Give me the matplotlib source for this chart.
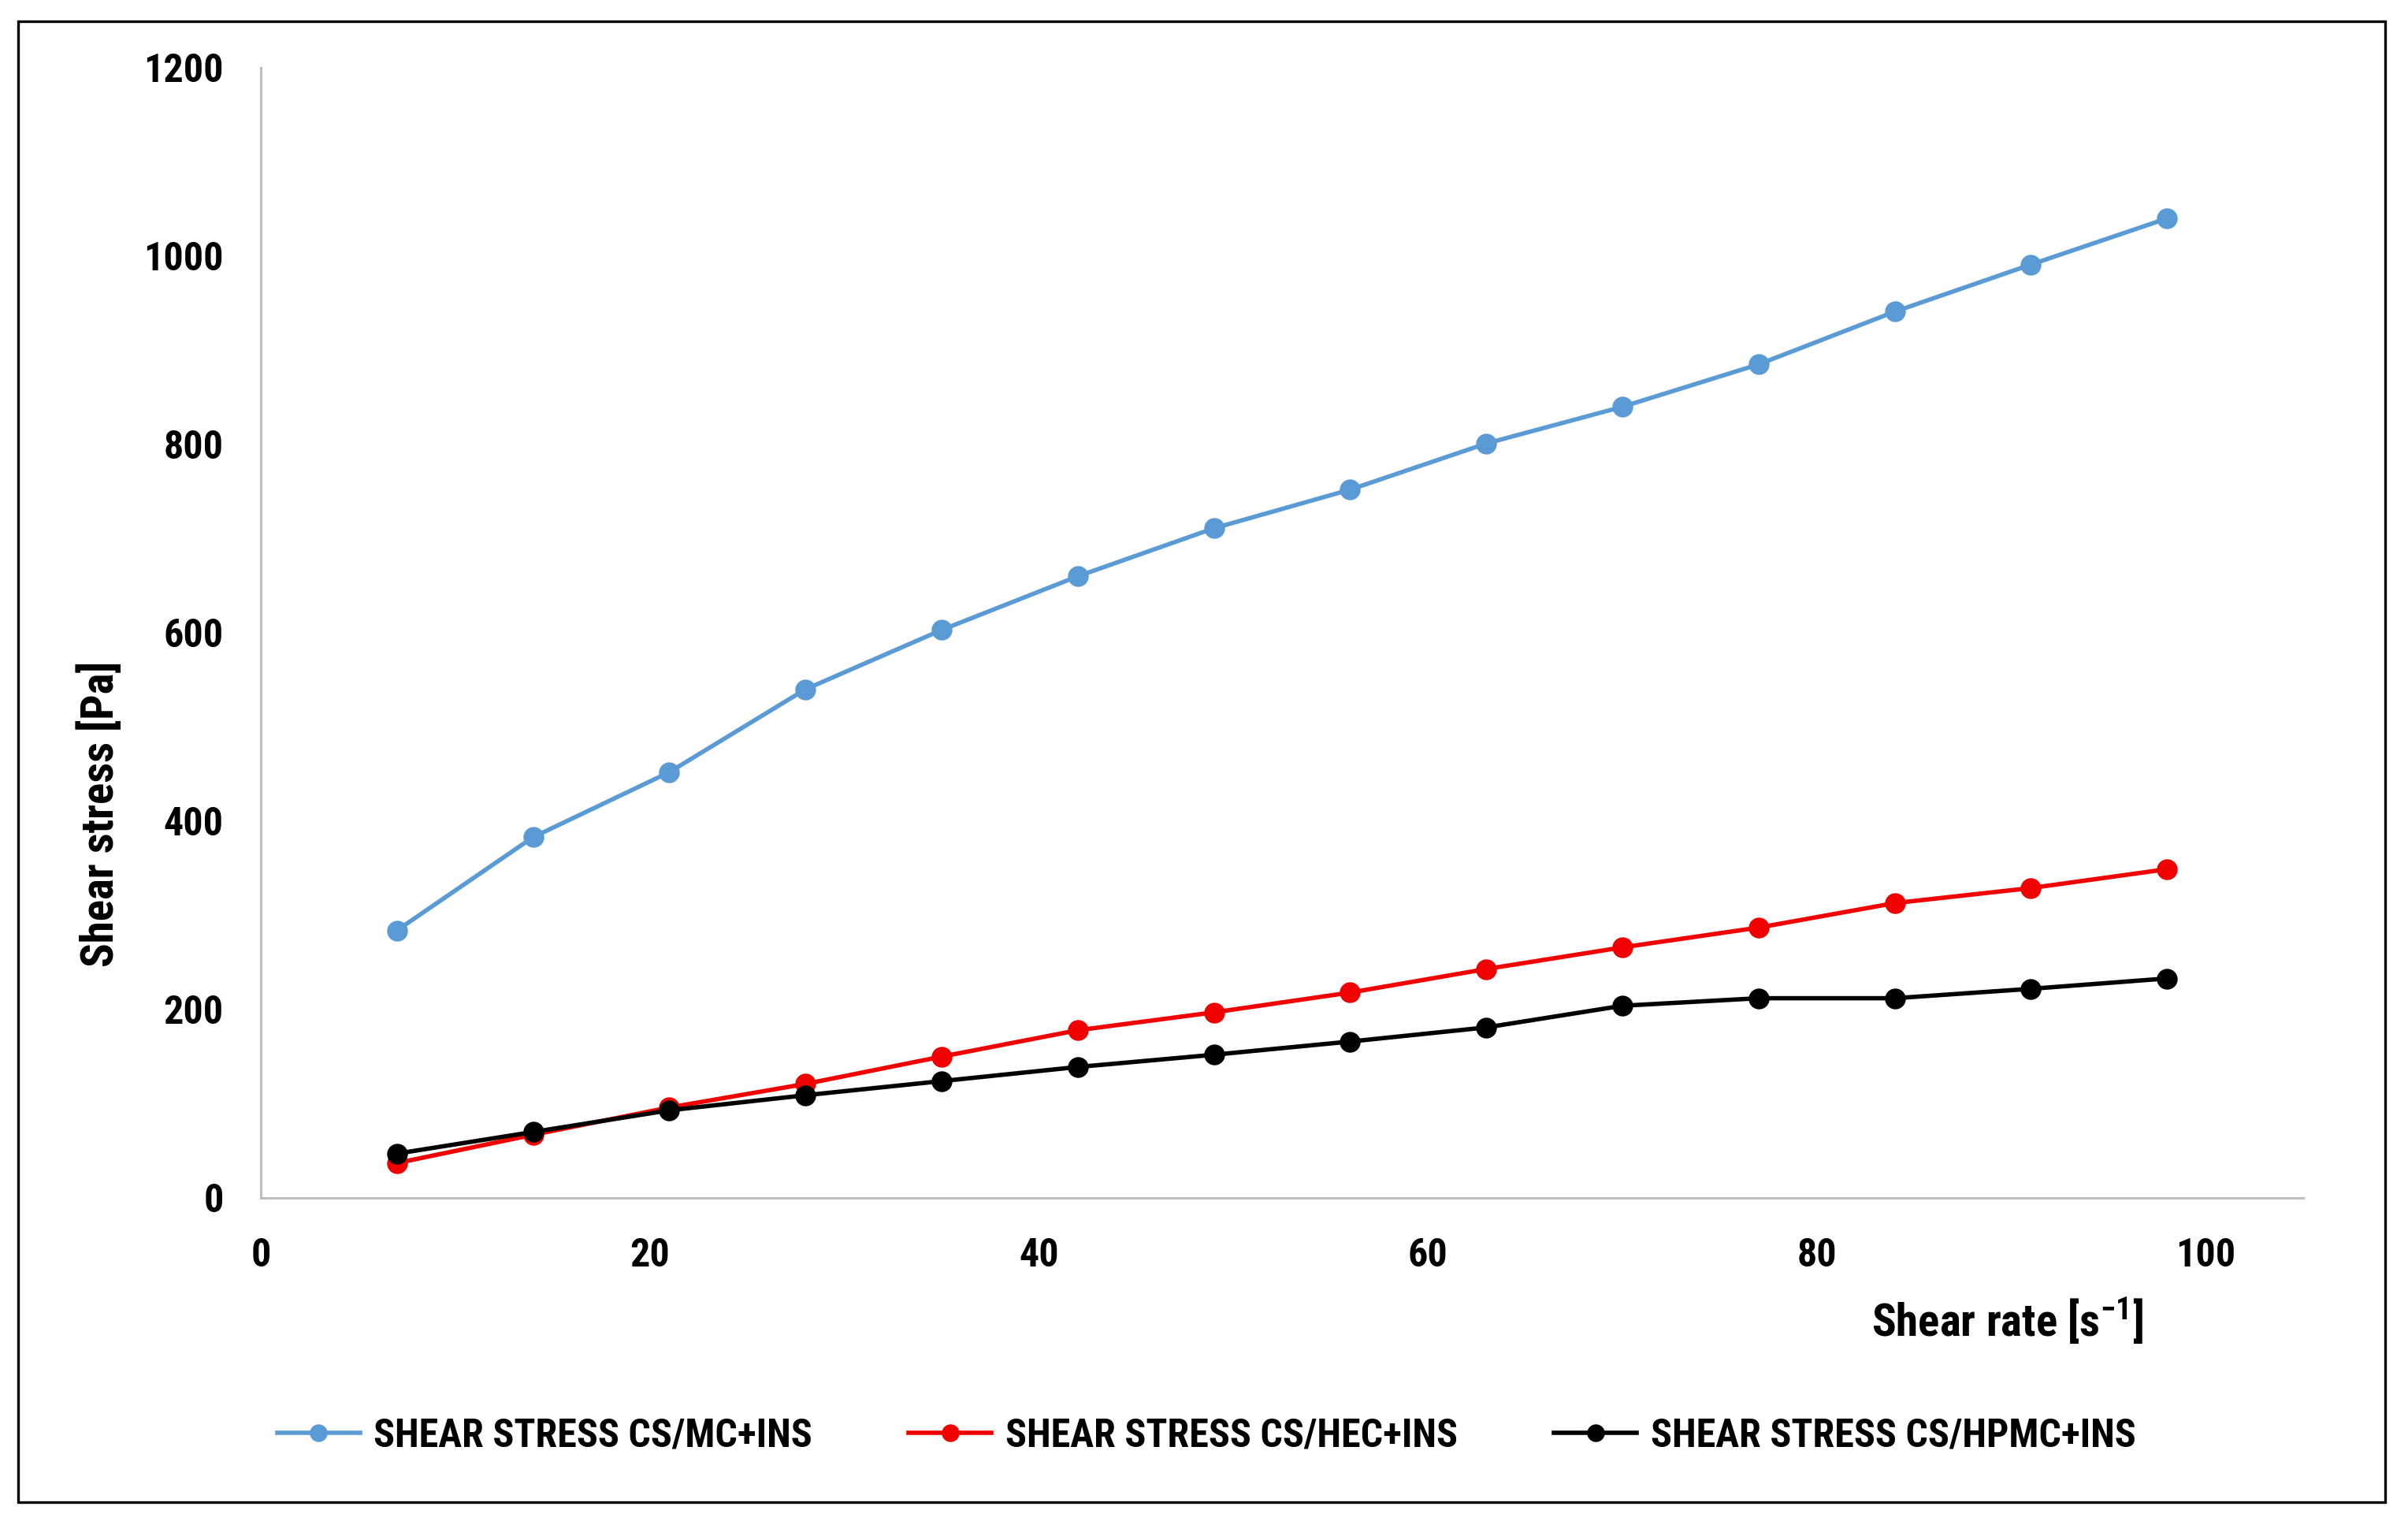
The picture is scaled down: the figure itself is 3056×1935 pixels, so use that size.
import matplotlib
matplotlib.use("Agg")
import matplotlib.pyplot as plt
from matplotlib import font_manager as fm
from matplotlib.patches import Rectangle

# ---- data ----
shear_rate = [7, 14, 21, 28, 35, 42, 49, 56, 63, 70, 77, 84, 91, 98]
stress_mc = [284, 383, 452, 540, 603, 660, 711, 752, 801, 840, 885, 941, 991, 1040]
stress_hec = [37, 67, 96, 121, 150, 178, 197, 218, 243, 266, 287, 313, 329, 349]
stress_hpmc = [47, 70, 93, 109, 124, 139, 152, 166, 181, 204, 212, 212, 222, 233]
labels = ["SHEAR STRESS CS/MC+INS", "SHEAR STRESS CS/HEC+INS", "SHEAR STRESS CS/HPMC+INS"]
colors = ["#5B9BD5", "#F00000", "#000000"]
x_ticks = [0, 20, 40, 60, 80, 100]
y_ticks = [0, 200, 400, 600, 800, 1000, 1200]

avail = {f.name for f in fm.fontManager.ttflist}
fam = "DejaVu Sans"
for cand in ["Liberation Sans Narrow", "Roboto Condensed", "Open Sans Condensed", "Liberation Sans", "Open Sans"]:
    if cand in avail:
        fam = cand
        break
plt.rcParams['font.family'] = [fam, 'DejaVu Sans']
plt.rcParams['mathtext.default'] = 'regular'

fig = plt.figure(figsize=(30.56, 19.35), dpi=100)
ax = fig.add_axes([0.1083, 0.2145, 0.9565 - 0.1083, 0.9556 - 0.2145])

for ys, c, lab in zip([stress_mc, stress_hec, stress_hpmc], colors, labels):
    ax.plot(shear_rate, ys, color=c, lw=4.0, marker='o', markersize=19,
            markeredgewidth=0, label=lab)

ax.set_xlim(0, 105)
ax.set_ylim(0, 1200)
ax.set_xticks(x_ticks)
ax.set_yticks(y_ticks)
for s in ['top', 'right']:
    ax.spines[s].set_visible(False)
for s in ['left', 'bottom']:
    ax.spines[s].set_color('#BFBFBF')
    ax.spines[s].set_linewidth(2.2)
ax.tick_params(axis='both', length=0, labelsize=36)
ax.tick_params(axis='y', pad=34)
ax.tick_params(axis='x', pad=36)
for t in ax.get_xticklabels() + ax.get_yticklabels():
    t.set_fontweight('bold')

fig.text(0.0415, 0.466, "Shear stress [Pa]", rotation=90, ha='center', va='center',
         fontsize=41, fontweight='bold')
fig.text(0.8335, 0.134, "Shear rate [s$^{-1}$]", ha='center', va='center',
         fontsize=41, fontweight='bold')

leg = fig.legend(loc='center', bbox_to_anchor=(0.501, 0.0584), ncol=3, frameon=False,
                 prop={'size': 36, 'weight': 'bold'}, handlelength=2.1, handletextpad=0.35,
                 columnspacing=2.45, markerscale=0.85)

# outer frame
fig.patches.append(Rectangle((0.0075, 0.015), 0.9905 - 0.0075, 0.986 - 0.015,
                             transform=fig.transFigure, fill=False, edgecolor='black',
                             linewidth=2.4))

fig.savefig("out.png", dpi=100, facecolor='white')
